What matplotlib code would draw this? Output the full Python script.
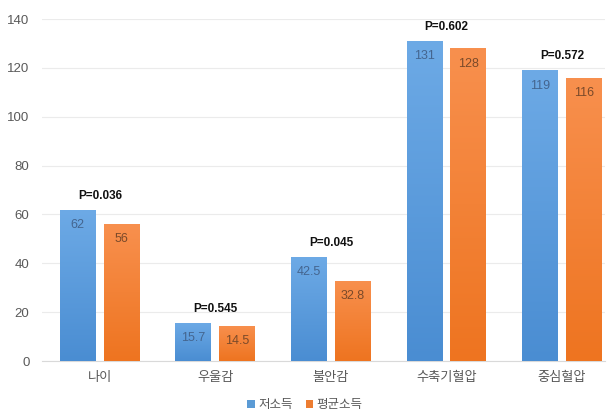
import matplotlib
matplotlib.use('Agg')
import matplotlib.pyplot as plt
import numpy as np

plt.rcParams['font.family'] = ['Liberation Sans', 'Noto Sans CJK KR', 'DejaVu Sans']

categories = ['나이', '우울감', '불안감', '수축기혈압', '중심혈압']
low_income = [62, 15.7, 42.5, 131, 119]
avg_income = [56, 14.5, 32.8, 128, 116]
low_labels = ['62', '15.7', '42.5', '131', '119']
avg_labels = ['56', '14.5', '32.8', '128', '116']
p_values = ['P=0.036', 'P=0.545', 'P=0.045', 'P=0.602', 'P=0.572']
series_names = ['저소득', '평균소득']


def grad_bars(ax, bars, top_col, bot_col):
    grad = np.linspace(0, 1, 256).reshape(-1, 1)
    c1 = np.array(matplotlib.colors.to_rgb(top_col))
    c2 = np.array(matplotlib.colors.to_rgb(bot_col))
    img = c1[None, None, :] * (1 - grad[:, :, None]) + c2[None, None, :] * grad[:, :, None]
    for b in bars:
        x0, y0 = b.get_x(), b.get_y()
        w, h = b.get_width(), b.get_height()
        im = ax.imshow(img, extent=[x0, x0 + w, y0, y0 + h], origin='upper',
                       aspect='auto', zorder=3)
        im.set_clip_path(b)


fig = plt.figure(figsize=(6.08, 4.13), dpi=100)
ax = fig.add_axes([42 / 608, 1 - 361 / 413, (605 - 42) / 608, (361 - 19) / 413])

x = np.arange(len(categories))
w = 0.31
off = 0.19
b1 = ax.bar(x - off, low_income, w, color='#5B9BD5', zorder=2, label=series_names[0])
b2 = ax.bar(x + off, avg_income, w, color='#ED7D31', zorder=2, label=series_names[1])
grad_bars(ax, b1, '#6DAAE6', '#4A8DD2')
grad_bars(ax, b2, '#F8904E', '#EE7420')

for i in range(len(categories)):
    ax.annotate(low_labels[i], (x[i] - off, low_income[i]), xytext=(0, -11),
                textcoords='offset points', ha='center', va='center',
                fontsize=9, color='#44658F', zorder=5)
    ax.annotate(avg_labels[i], (x[i] + off, avg_income[i]), xytext=(0, -11),
                textcoords='offset points', ha='center', va='center',
                fontsize=9, color='#7A4A2A', zorder=5)
    top = max(low_income[i], avg_income[i])
    ax.annotate(p_values[i], (x[i], top), xytext=(0, 10),
                textcoords='offset points', ha='center', va='center',
                fontsize=8.5, fontweight='bold', color='#111111', zorder=5)

ax.set_xlim(-0.5, (605 - 100) / 115.5)
ax.set_ylim(0, 140)
ax.set_yticks(range(0, 141, 20))
ax.set_xticks(x)
ax.set_xticklabels(categories)
ax.yaxis.grid(True, color='#EBEBEB', linewidth=0.8, zorder=0)
ax.set_axisbelow(True)
for s in ['top', 'right', 'left']:
    ax.spines[s].set_visible(False)
ax.spines['bottom'].set_color('#D9D9D9')
ax.tick_params(axis='both', length=0, colors='#595959', labelsize=9.5)
ax.tick_params(axis='x', pad=8)
ax.tick_params(axis='y', pad=9)

leg = fig.legend(handles=[b1, b2], labels=series_names, loc='center',
                 bbox_to_anchor=(305 / 608, 1 - 405 / 413), ncol=2, frameon=False,
                 fontsize=9, handlelength=0.6, handleheight=0.6,
                 handletextpad=0.3, columnspacing=1.0)
for t in leg.get_texts():
    t.set_color('#595959')

fig.savefig('out.png', dpi=100)
